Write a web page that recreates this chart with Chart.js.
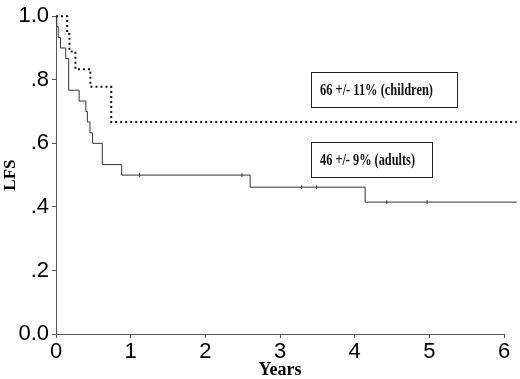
<!DOCTYPE html>
<html>
<head>
<meta charset="utf-8">
<script src="https://cdn.jsdelivr.net/npm/chart.js@4"></script>
<style>
  html, body { margin: 0; padding: 0; background: #fff; }
  #wrap { width: 520px; height: 379px; }
</style>
</head>
<body>
<div id="wrap"><canvas id="lfsChart" width="520" height="379"></canvas></div>
<script>
// Kaplan-Meier LFS
const adultTimes = [0, 0.01, 0.03, 0.06, 0.13, 0.17, 0.31, 0.40, 0.42, 0.455, 0.49, 0.62, 0.88, 2.60, 4.14, 6.17];
const adultSurv  = [1.0, 0.967, 0.933, 0.90, 0.867, 0.767, 0.733, 0.70, 0.667, 0.633, 0.60, 0.533, 0.50, 0.462, 0.415, 0.415];
const adultCensorTimes = [1.12, 2.49, 3.29, 3.49, 4.43, 4.97];
const adultCensorSurv  = [0.50, 0.50, 0.462, 0.462, 0.415, 0.415];

const childTimes = [0, 0.15, 0.18, 0.26, 0.46, 0.74, 6.17];
const childSurv  = [1.0, 0.944, 0.889, 0.833, 0.778, 0.667, 0.667];

const xTicks = [0, 1, 2, 3, 4, 5, 6];
const yTicks = [0, 0.2, 0.4, 0.6, 0.8, 1.0];
const boxLabels = ['66 +/- 11% (children)', '46 +/- 9% (adults)'];

const toPts = (xs, ys) => xs.map((x, i) => ({ x: x, y: ys[i] }));
const axisColor = '#555';

// framed annotations (pixel layout)
const boxPlugin = {
  id: 'boxes',
  afterDraw(chart) {
    const ctx = chart.ctx;
    const boxes = [
      { x: 311, y: 72, w: 146, h: 35, text: boxLabels[0], tw: 113 },
      { x: 311, y: 142, w: 121, h: 35, text: boxLabels[1], tw: 95 },
    ];
    ctx.save();
    boxes.forEach(b => {
      ctx.fillStyle = '#fff';
      ctx.fillRect(b.x, b.y, b.w, b.h);
      ctx.strokeStyle = '#222';
      ctx.lineWidth = 1;
      ctx.strokeRect(b.x + 0.5, b.y + 0.5, b.w, b.h);
      ctx.font = 'bold 16px "Liberation Serif"';
      ctx.fillStyle = '#111';
      ctx.textBaseline = 'middle';
      const w = ctx.measureText(b.text).width;
      ctx.save();
      ctx.translate(b.x + 9, b.y + b.h / 2 + 1);
      ctx.scale(b.tw / w, 1);
      ctx.fillText(b.text, 0, 0);
      ctx.restore();
    });
    ctx.restore();
  }
};

new Chart(document.getElementById('lfsChart'), {
  type: 'line',
  data: {
    datasets: [
      {
        label: 'children',
        data: toPts(childTimes, childSurv),
        stepped: 'before',
        borderColor: '#111',
        borderWidth: 2,
        borderDash: [2, 3],
        pointRadius: 0,
        fill: false,
        clip: false,
      },
      {
        label: 'adults',
        data: toPts(adultTimes, adultSurv),
        stepped: 'before',
        borderColor: '#333',
        borderWidth: 1,
        pointRadius: 0,
        fill: false,
        clip: false,
      },
      {
        label: 'censored',
        data: toPts(adultCensorTimes, adultCensorSurv),
        showLine: false,
        pointStyle: 'line',
        rotation: 90,
        pointRadius: 2,
        borderColor: '#333',
        borderWidth: 1,
        clip: false,
      },
    ],
  },
  options: {
    responsive: false,
    animation: false,
    events: [],
    layout: { padding: { top: 9, right: 16, left: 0, bottom: 0 } },
    plugins: { legend: { display: false }, tooltip: { enabled: false } },
    scales: {
      x: {
        type: 'linear',
        min: 0,
        max: 6,
        afterFit: s => { s.height = 45; },
        afterBuildTicks: s => { s.ticks = xTicks.map(v => ({ value: v })); },
        ticks: { color: '#000', font: { family: '"Liberation Sans", Arial', size: 22 }, padding: 1, maxRotation: 0 },
        grid: { drawOnChartArea: false, drawTicks: true, tickLength: 4, color: axisColor },
        border: { display: true, color: axisColor, width: 1 },
        title: { display: true, text: 'Years', color: '#000', font: { family: '"Liberation Serif"', size: 18, weight: 'bold', lineHeight: 1 }, padding: 0 },
      },
      y: {
        type: 'linear',
        min: 0,
        max: 1,
        afterFit: s => { s.width = 56; },
        afterBuildTicks: s => { s.ticks = yTicks.map(v => ({ value: v })); },
        ticks: {
          color: '#000',
          font: { family: '"Liberation Sans", Arial', size: 22 },
          padding: 3,
          callback: v => {
            const n = Math.round(v * 10);
            if (n === 10) return '1.0';
            if (n === 0) return '0.0';
            return '.' + n;
          },
        },
        grid: { drawOnChartArea: false, drawTicks: true, tickLength: 4, color: axisColor },
        border: { display: true, color: axisColor, width: 1 },
        title: { display: true, text: 'LFS', color: '#000', font: { family: '"Liberation Serif"', size: 17, weight: 'bold', lineHeight: 1.2 }, padding: { top: 0, bottom: 0 } },
      },
    },
  },
  plugins: [boxPlugin],
});
</script>
</body>
</html>
